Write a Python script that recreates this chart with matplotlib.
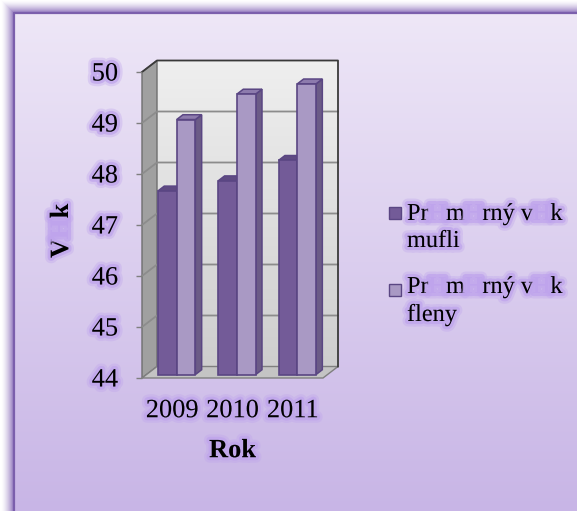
import numpy as np
import matplotlib
matplotlib.use('Agg')
import matplotlib.pyplot as plt
import matplotlib.patheffects as pe
from matplotlib.patches import Polygon, Rectangle
from matplotlib.colors import to_rgb

years = ['2009', '2010', '2011']
men_age = [47.6, 47.8, 48.2]
women_age = [49.0, 49.5, 49.7]
age_ticks = [44, 45, 46, 47, 48, 49, 50]

# None = a glyph the font could not draw, shown as an empty glow blob
men_label = [['Pr', None, 'm', None, 'rný v', None, 'k'], ['mufli']]
women_label = [['Pr', None, 'm', None, 'rný v', None, 'k'], ['fleny']]
y_title = ['V', None, 'k']
x_title = 'Rok'

W, H, DPI = 577, 511, 100
SERIF = 'Liberation Serif'
FS = 19
FS_LEG = 17.5
GLOW = '#BFA4EC'
DARK = dict(front='#735B98', top='#5F4B82', side='#564470')
LIGHT = dict(front='#A999C4', top='#8D7BAD', side='#6B5B86')
EDGE = '#5A4683'

glow = [pe.Stroke(linewidth=8, foreground=GLOW, alpha=0.35),
        pe.Stroke(linewidth=4.5, foreground=GLOW, alpha=0.75),
        pe.Normal()]

fig = plt.figure(figsize=(W / DPI, H / DPI), dpi=DPI)

# --- background panel in pixel coordinates ---
bg = fig.add_axes([0, 0, 1, 1])
bg.axis('off')
yy, xx = np.mgrid[0:H, 0:W] + 0.5
fx, fy = 14, 13
out = np.maximum(np.maximum(fx - xx, fy - yy), 0)
t = ((yy - fy) / (H - fy)).clip(0, 1)[..., None]
img = np.array(to_rgb('#EEE7F7')) * (1 - t) + np.array(to_rgb('#C8B5E6')) * t
shade = (np.clip(1 - out / 13, 0, 1) ** 1.6)[..., None]
sh_img = np.ones(3) * (1 - shade) + np.array(to_rgb('#8C70BA')) * shade
img = np.where((out > 0)[..., None], sh_img, img)
bg.imshow(img, extent=(0, W, H, 0), aspect='auto', interpolation='bilinear', zorder=0)
bg.plot([fx, fx, W], [H, fy, fy], color='#7B5FAC', lw=1.6, zorder=1)
bg.set_xlim(0, W)
bg.set_ylim(H, 0)


def glow_text(x, y, pieces, rotation=0, size=FS, **kw):
    # text is laid out piece by piece so the missing glyphs keep their blob
    prev = None
    for p in pieces:
        s, color = ('H', GLOW) if p is None else (p, 'black')
        style = dict(fontfamily=SERIF, fontsize=size, color=color, rotation=rotation,
                     path_effects=glow, zorder=5, **kw)
        if prev is None:
            prev = bg.text(x, y, s, ha='left', va='baseline' if rotation == 0 else 'bottom', **style)
        else:
            xy = (1, 0) if rotation == 0 else (0, 1)
            prev = bg.annotate(s, xy=xy, xycoords=prev, ha='left', va='bottom', **style)


# --- 3d-looking column chart ---
L, R, B, T = 142, 323, 378, 72
ax = fig.add_axes([L / W, 1 - B / H, (R - L) / W, (B - T) / H])
ax.patch.set_visible(False)
for sp in ax.spines.values():
    sp.set_visible(False)

x0, x1 = -0.5, len(years) - 0.5
y0, y1 = age_ticks[0], age_ticks[-1]
DX = 15 / (R - L) * (x1 - x0)
DY = 11.5 / (B - T) * (y1 - y0)

w = np.linspace(0, 1, 64)[:, None, None]
wall_img = np.array(to_rgb('#EFEFEF')) * (1 - w) + np.array(to_rgb('#CECECE')) * w
im = ax.imshow(wall_img, extent=(x0 + DX, x1 + DX, y0 + DY, y1 + DY), aspect='auto', zorder=0)
im.set_clip_on(False)

ax.add_patch(Polygon([(x0, y0), (x0, y1), (x0 + DX, y1 + DY), (x0 + DX, y0 + DY)],
                     fc='#A0A0A0', ec='#6F6F6F', lw=1, zorder=1, clip_on=False))
ax.add_patch(Polygon([(x0, y0), (x1, y0), (x1 + DX, y0 + DY), (x0 + DX, y0 + DY)],
                     fc='#C4C4C4', ec='#7F7F7F', lw=1, zorder=1, clip_on=False))
for v in age_ticks[1:-1]:
    ax.plot([x0, x0 + DX, x1 + DX], [v, v + DY, v + DY], color='#8C8C8C', lw=1.3,
            zorder=1.5, clip_on=False)
ax.plot([x0, x0 + DX, x1 + DX, x1 + DX], [y1, y1 + DY, y1 + DY, y0 + DY],
        color='#3A3A3A', lw=1.3, zorder=1.5, clip_on=False)

BW = 0.31
D0, D1 = 0.3, 0.72
idx = np.arange(len(years))
ox0, oy0, ox1, oy1 = D0 * DX, D0 * DY, D1 * DX, D1 * DY
for k, (vals, col) in enumerate([(men_age, DARK), (women_age, LIGHT)]):
    left = idx - BW + k * BW
    z = 2 + 2 * k
    for xl, v in zip(left, vals):
        xr = xl + BW
        ax.add_patch(Polygon([(xr + ox0, y0 + oy0), (xr + ox0, v + oy0), (xr + ox1, v + oy1),
                              (xr + ox1, y0 + oy1)], fc=col['side'], ec=EDGE, lw=1.1,
                             zorder=z, clip_on=False))
        ax.add_patch(Polygon([(xl + ox0, v + oy0), (xr + ox0, v + oy0), (xr + ox1, v + oy1),
                              (xl + ox1, v + oy1)], fc=col['top'], ec=EDGE, lw=1.1,
                             zorder=z, clip_on=False))
    ax.bar(left + ox0, np.array(vals) - y0, bottom=y0 + oy0, width=BW, align='edge',
           color=col['front'], edgecolor=EDGE, lw=1.2, zorder=z + 1, clip_on=False)

ax.set_xlim(x0, x1)
ax.set_ylim(y0, y1)
ax.set_yticks(age_ticks, [str(v) for v in age_ticks], fontfamily=SERIF, fontsize=FS)
ax.set_xticks(idx, years, fontfamily=SERIF, fontsize=FS)
ax.tick_params(axis='y', length=4.3, width=1, color='#7F7F7F', pad=13)
ax.tick_params(axis='x', length=0, pad=16)
for lab in ax.get_xticklabels() + ax.get_yticklabels():
    lab.set_path_effects(glow)

ax.set_xlabel(x_title, fontfamily=SERIF, fontsize=FS, fontweight='bold')
ax.xaxis.set_label_coords(0.5, -0.2)
ax.xaxis.label.set_path_effects(glow)

glow_text(50, 258, y_title, rotation=90, fontweight='bold')

# --- legend ---
bg.add_patch(Rectangle((389, 207), 12, 12, fc=DARK['front'], ec=EDGE, lw=1, zorder=5))
bg.add_patch(Rectangle((389, 284), 12, 12, fc=LIGHT['front'], ec=EDGE, lw=1, zorder=5))
glow_text(407, 220, men_label[0], size=FS_LEG)
glow_text(407, 247, men_label[1], size=FS_LEG)
glow_text(407, 293, women_label[0], size=FS_LEG)
glow_text(407, 321, women_label[1], size=FS_LEG)

fig.savefig('out.png', dpi=DPI)
